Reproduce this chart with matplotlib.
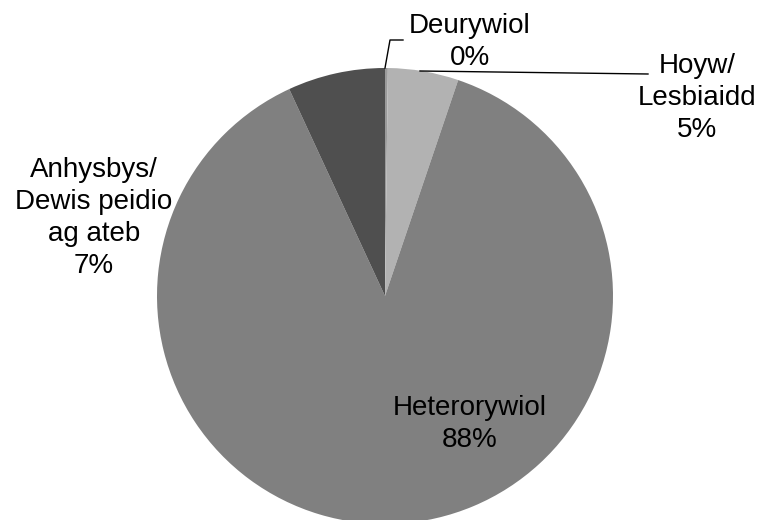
import matplotlib
matplotlib.use("Agg")
import matplotlib.pyplot as plt

categories = ["Deurywiol", "Hoyw/\nLesbiaidd", "Heterorywiol", "Anhysbys/\nDewis peidio\nag ateb"]
values = [0.2, 5.0, 87.9, 6.9]
pct_labels = ["0%", "5%", "88%", "7%"]
colors = ["#9a9a9a", "#b2b2b2", "#808080", "#4f4f4f"]

W, H = 761, 520
fig = plt.figure(figsize=(W / 100, H / 100), dpi=100)
ax = fig.add_axes([0, 0, 1, 1])

cx, cy, r = 385, H - 296, 228
ax.pie(values, colors=colors, startangle=90, counterclock=False,
       center=(cx, cy), radius=r, frame=True,
       wedgeprops=dict(linewidth=0))
ax.set_xlim(0, W)
ax.set_ylim(0, H)
ax.set_aspect("equal")
ax.axis("off")

font = dict(family=["Liberation Sans", "DejaVu Sans"], fontsize=20, color="black")

# label positions (pixel coords, y from top), same order as categories
label_pos = [(470, 42), (697, 98), (470, 424), (94, 218)]
for cat, pct, (px, py) in zip(categories, pct_labels, label_pos):
    ax.text(px, H - py, f"{cat}\n{pct}", ha="center", va="center",
            linespacing=1.3, **font)

# leader lines
ax.plot([385, 390, 403], [H - 68, H - 40, H - 40], color="black", lw=1)
ax.plot([420, 648], [H - 71, H - 74], color="black", lw=1)

fig.savefig("out.png", dpi=100)
